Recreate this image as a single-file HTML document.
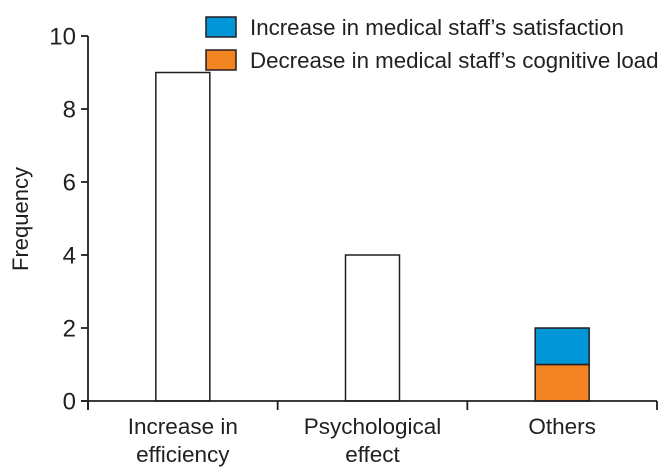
<!DOCTYPE html>
<html><head><meta charset="utf-8"><style>
body{margin:0;background:#fff}
svg{display:block;font-family:"Liberation Sans",Arial,sans-serif;fill:#231f20}
</style></head><body>
<svg id="c" width="670" height="475"></svg>
<script>
const categories=[["Increase in","efficiency"],["Psychological","effect"],["Others"]];
const totals=[9,4,0];
const satisfaction=[0,0,1];
const cognitive=[0,0,1];
const yTicks=[0,2,4,6,8,10];
const svg=document.getElementById('c');
const NS='http://www.w3.org/2000/svg';
const x0=88,x1=657,y0=401,yTop=36,yMax=10;
const slot=(x1-x0)/categories.length;
function y(v){return y0-(y0-yTop)*v/yMax;}
function xc(i){return x0+slot*(i+0.5);}
function mk(t,a,p){const e=document.createElementNS(NS,t);for(const k in a)e.setAttribute(k,a[k]);(p||svg).appendChild(e);return e;}
const bw=54;
categories.forEach((c,i)=>{
  const l=xc(i)-bw/2;
  if(totals[i]>0){
    const r=mk('rect',{x:l,y:y(totals[i]),width:bw,height:y0-y(totals[i]),fill:'#fff',stroke:'#231f20','stroke-width':1.5});
    
    
  }
  if(cognitive[i]>0){
    const r=mk('rect',{x:l,y:y(cognitive[i]),width:bw,height:y0-y(cognitive[i]),fill:'#f28521',stroke:'#231f20','stroke-width':1.5});
    
    
  }
  if(satisfaction[i]>0){
    const b=cognitive[i];
    const r=mk('rect',{x:l,y:y(b+satisfaction[i]),width:bw,height:y(b)-y(b+satisfaction[i]),fill:'#0096d8',stroke:'#231f20','stroke-width':1.5});
    
    
  }
  c.forEach((line,j)=>{
    const t=mk('text',{x:xc(i),y:434+j*28,'text-anchor':'middle','font-size':22.5});
    t.textContent=line;
    
    
  });
});
const ya=mk('line',{x1:x0,y1:yTop,x2:x0,y2:y0+9,stroke:'#231f20','stroke-width':1.8});


const xa=mk('line',{x1:x0-7,y1:y0,x2:x1,y2:y0,stroke:'#231f20','stroke-width':1.8});


for(let i=0;i<=categories.length;i++){
  const t=mk('line',{x1:x0+slot*i,y1:y0,x2:x0+slot*i,y2:y0+9,stroke:'#231f20','stroke-width':1.8});
  
  
}
yTicks.forEach(v=>{
  const t=mk('line',{x1:x0-7,y1:y(v),x2:x0,y2:y(v),stroke:'#231f20','stroke-width':1.8});
  
  
  const l=mk('text',{x:x0-12,y:y(v)+8.5,'text-anchor':'end','font-size':24});
  l.textContent=v;
  
  
});
const yt=mk('text',{x:0,y:0,transform:'translate(28,219) rotate(-90)','text-anchor':'middle','font-size':22});
yt.textContent='Frequency';


const leg=[['#0096d8','Increase in medical staff\u2019s satisfaction'],['#f28521','Decrease in medical staff\u2019s cognitive load']];
leg.forEach((d,i)=>{
  const g=mk('g',{});
  
  
  mk('rect',{x:206,y:17+i*33,width:30,height:20,fill:d[0],stroke:'#231f20','stroke-width':1.5},g);
  const t=mk('text',{x:250,y:35+i*33,'font-size':22.3},g);
  t.textContent=d[1];
});
</script>
</body></html>
